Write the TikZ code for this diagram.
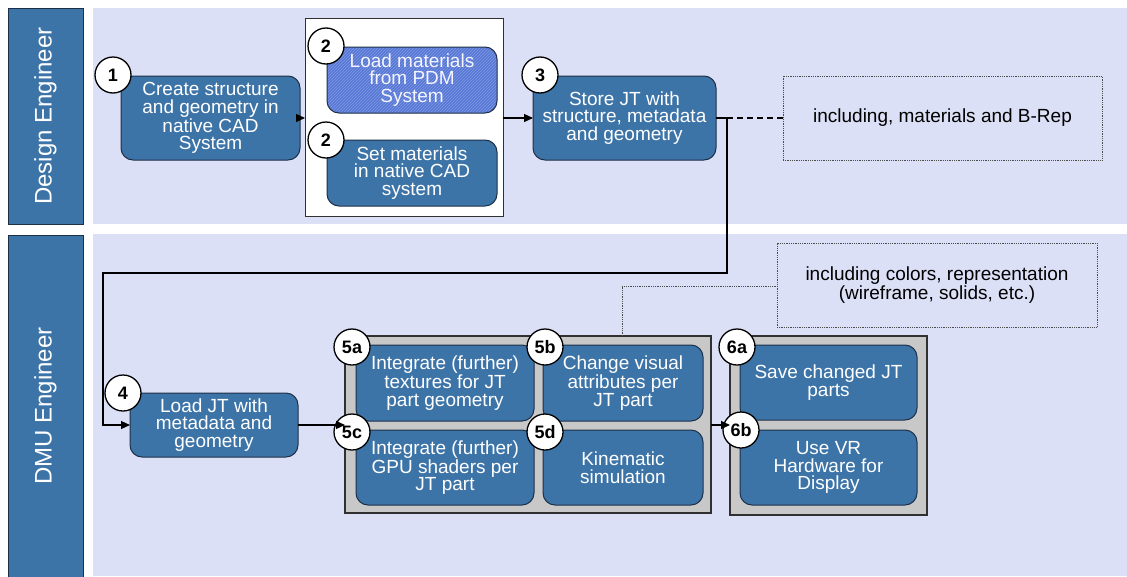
\documentclass[tikz,border=0pt]{standalone}
\usepackage{fontspec}
\setmainfont{Liberation Sans}
\usetikzlibrary{patterns,arrows.meta}
\definecolor{lanebg}{HTML}{DCE0F6}
\definecolor{stepblue}{HTML}{3D74A8}
\definecolor{stepedge}{HTML}{1E3048}
\definecolor{hatchbase}{HTML}{5878D4}
\definecolor{hatchline}{HTML}{7E9AE4}
\definecolor{groupgray}{HTML}{C8C8C8}
\definecolor{framegray}{HTML}{303030}
\tikzset{
  lanebox/.style={draw=stepedge, fill=stepblue, line width=1pt, inner sep=0pt, outer sep=0pt},
  lanetext/.style={text=white, rotate=90, font={\fontsize{24}{26}\selectfont}},
  stepbox/.style={draw=stepedge, fill=stepblue, line width=1pt, rounded corners=12pt,
    inner sep=0pt, outer sep=0pt, text=white, align=center,
    font={\fontsize{19}{17.5}\selectfont}},
  hatchbox/.style={stepbox, preaction={fill=hatchbase}, pattern=north east lines,
    pattern color=hatchline, text=white!96!blue},
  groupbox/.style={draw=framegray, fill=groupgray, line width=1.3pt, inner sep=0pt, outer sep=0pt},
  whitebox/.style={draw=framegray, fill=white, line width=1pt, inner sep=0pt, outer sep=0pt},
  notebox/.style={draw=black!70, densely dotted, line width=0.8pt, inner sep=0pt, outer sep=0pt,
    align=center, font={\fontsize{19}{17.5}\selectfont}},
  numcircle/.style={circle, draw=black, fill=white, line width=1.3pt, minimum size=36pt,
    inner sep=0pt, font={\fontsize{18}{18}\selectfont\bfseries}},
  flow/.style={line width=1.2pt, -{Triangle[length=9pt,width=8pt]}},
  plainline/.style={line width=1.2pt},
}
\begin{document}
\begin{tikzpicture}[x=1pt,y=-1pt]
\useasboundingbox (0,0) rectangle (1127,576);
\fill[white] (0,0) rectangle (1127,576);

% swim lanes
\fill[lanebg] (93,8) rectangle (1127,224);
\fill[lanebg] (93,234) rectangle (1127,576);
\node[lanebox, minimum width=75pt, minimum height=216pt] (laneA) at (45.5,116) {};
\node[lanetext] at (laneA.center) {Design Engineer};
\node[lanebox, minimum width=75pt, minimum height=342pt] (laneB) at (45.5,406) {};
\node[lanetext] at (laneB.center) {DMU Engineer};

% design engineer steps
\node[stepbox, minimum width=179pt, minimum height=84pt] (n1) at (210.5,118)
  {Create structure\\and geometry in\\native CAD\\System};
\node[numcircle] (c1) at (113,75) {1};

\node[whitebox, minimum width=198pt, minimum height=198pt] (g2) at (404,117) {};
\node[hatchbox, minimum width=170pt, minimum height=66pt] (n2a) at (412,80)
  {Load materials\\from PDM\\System};
\node[numcircle] (c2a) at (326,46) {2};
\node[stepbox, minimum width=170pt, minimum height=66pt] (n2b) at (412,173)
  {Set materials\\in native CAD\\system};
\node[numcircle] (c2b) at (326,140) {2};

\node[stepbox, minimum width=183pt, minimum height=84pt] (n3) at (624.5,118)
  {Store JT with\\structure, metadata\\and geometry};
\node[numcircle] (c3) at (540,75) {3};

\node[notebox, minimum width=319pt, minimum height=84pt] (note1) at (942.5,118)
  {including, materials and B-Rep};

% DMU engineer steps
\node[stepbox, minimum width=168pt, minimum height=64pt] (n4) at (214,425)
  {Load JT with\\metadata and\\geometry};
\node[numcircle] (c4) at (123,393) {4};

\node[groupbox, minimum width=366pt, minimum height=177pt] (g5) at (528,424.5) {};
\node[stepbox, minimum width=178pt, minimum height=76pt] (n5a) at (445,383)
  {Integrate (further)\\textures for JT\\part geometry};
\node[stepbox, minimum width=160pt, minimum height=76pt] (n5b) at (623,383)
  {Change visual\\attributes per\\JT part};
\node[stepbox, minimum width=178pt, minimum height=75pt] (n5c) at (445,467.5)
  {Integrate (further)\\GPU shaders per\\JT part};
\node[stepbox, minimum width=160pt, minimum height=75pt] (n5d) at (623,467.5)
  {Kinematic\\simulation};
\node[numcircle] (c5a) at (352,347) {5a};
\node[numcircle] (c5b) at (545,347) {5b};
\node[numcircle] (c5c) at (352,432) {5c};
\node[numcircle] (c5d) at (545,432) {5d};

\node[groupbox, minimum width=197pt, minimum height=179pt] (g6) at (828.5,425.5) {};
\node[stepbox, minimum width=177pt, minimum height=75pt] (n6a) at (828.5,382.5)
  {Save changed JT\\parts};
\node[stepbox, minimum width=177pt, minimum height=75pt] (n6b) at (828.5,467.5)
  {Use VR\\Hardware for\\Display};
\node[numcircle] (c6a) at (737,347) {6a};
\node[numcircle] (c6b) at (741,430) {6b};

\node[notebox, minimum width=320pt, minimum height=84pt] (note2) at (937,285)
  {including colors, representation\\(wireframe, solids, etc.)};

% connectors
\draw[flow] (n1.east) -- (n1.east -| g2.west);
\draw[flow] (g2.east |- n3.west) -- (n3.west);
\coordinate (j1) at (727,118);
\coordinate (j2) at (727,273);
\coordinate (j3) at (103,273);
\draw[plainline] (n3.east) -- (j1);
\draw[line width=1.2pt, dash pattern=on 6pt off 4pt] (j1) -- (note1.west);
\draw[flow] (j1) -- (j2) -- (j3) |- (n4.west);
\draw[flow] (n4.east) -- (n4.east -| g5.west);
\draw[flow] (g5.east |- n4.east) -- (n4.east -| g6.west);
\coordinate (k1) at (622,286);
\draw[black!70, densely dotted, line width=0.8pt] (g5.north -| k1) -- (k1) -- (note2.west |- k1);
\end{tikzpicture}
\end{document}
